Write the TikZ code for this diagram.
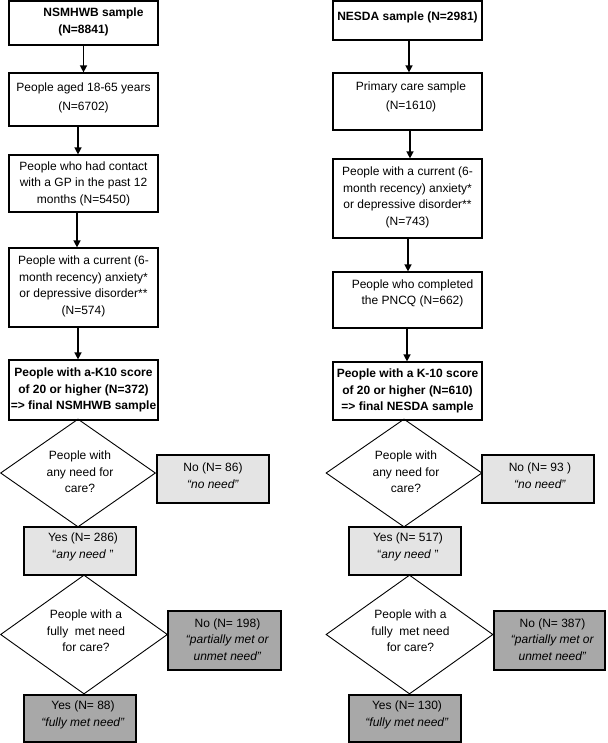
\documentclass[tikz,border=0pt]{standalone}
\usepackage{fontspec}
\setmainfont{Liberation Sans}
\usetikzlibrary{shapes.geometric,arrows.meta}
\definecolor{lightfill}{RGB}{228,228,228}
\definecolor{darkfill}{RGB}{168,168,168}
\newcommand{\boxtext}[3][0pt]{\hspace*{#1}\raisebox{#2}[\height][\depth]{\begin{tabular}{@{}c@{}}#3\end{tabular}}}
\begin{document}
\begin{tikzpicture}[x=1pt,y=-1pt,
  txtfont/.style={font=\fontsize{12}{16.5}\selectfont},
  box/.style={draw, line width=1.2pt, inner sep=0pt, minimum width=149pt, txtfont},
  boldbox/.style={box, font=\fontsize{12}{16.5}\selectfont\bfseries},
  dec/.style={draw, diamond, aspect=1.43, inner sep=0pt, line width=0.9pt, txtfont},
  res/.style={draw, line width=1.2pt, inner sep=0pt, minimum width=112pt, txtfont},
  lightres/.style={res, fill=lightfill},
  darkres/.style={res, fill=darkfill},
  arr/.style={line width=1.4pt, -{Triangle[length=7pt,width=7pt]}}]
\useasboundingbox (0,0) rectangle (607,743);

% left column
\node[boldbox, minimum height=44pt] (L1) at (83.5,23) {\boxtext{1.5pt}{\hspace*{20pt}NSMHWB sample\\(N=8841)}};
\node[box, minimum height=53pt] (L2) at (83.5,99.5) {\boxtext{2pt}{People aged 18-65 years\\[2.5pt](N=6702)}};
\node[box, minimum height=57pt] (L3) at (83.5,183.5) {\boxtext{0pt}{People who had contact\\with a GP in the past 12\\months (N=5450)}};
\node[box, minimum height=79pt] (L4) at (83.5,287.5) {\boxtext{1.5pt}{People with a current (6-\\month recency) anxiety*\\or depressive disorder**\\(N=574)}};
\node[boldbox, minimum height=60pt] (L5) at (83.5,390) {\boxtext{0pt}{People with a-K10 score\\of 20 or higher (N=372)\\=> final NSMHWB sample}};

\node[dec, minimum width=155pt, minimum height=108pt] (LD1) at (78,473) {\boxtext[4pt]{0pt}{People with\\any need for\\care?}};
\node[lightres, minimum height=48pt] (LN1) at (213,479) {\boxtext{2.5pt}{No (N= 86)\\\textit{“no need”}}};
\node[lightres, minimum height=48pt] (LY1) at (80,551) {\boxtext[6pt]{4.5pt}{Yes (N= 286)\\“\textit{any need} ”}};
\node[dec, minimum width=167pt, minimum height=119pt] (LD2) at (84,634.5) {\boxtext[4pt]{2.5pt}{People with a\\fully\ \ met need\\for care?}};
\node[darkres, minimum width=113pt, minimum height=59pt] (LN2) at (224.5,640.5) {\boxtext[6pt]{0pt}{No (N= 198)\\\textit{“partially met or}\\\textit{unmet need”}}};
\node[darkres, minimum height=47pt] (LY2) at (80,718.5) {\boxtext[6pt]{4pt}{Yes (N= 88)\\\textit{“fully met need”}}};

\draw[arr] (L1.south) -- (L2.north);
\draw[arr] ([xshift=-5.5pt]L2.south) -- ([xshift=-5.5pt]L3.north);
\draw[arr] ([xshift=-6.5pt]L3.south) -- ([xshift=-6.5pt]L4.north);
\draw[arr] ([xshift=-5.5pt]L4.south) -- ([xshift=-5.5pt]L5.north);

% right column
\node[boldbox, minimum height=39pt] (R1) at (407.5,20.5) {\boxtext{3pt}{NESDA sample (N=2981)}};
\node[box, minimum height=57pt] (R2) at (407.5,101.5) {\boxtext[7pt]{5pt}{Primary care sample\\[2.5pt](N=1610)}};
\node[box, minimum height=79pt] (R3) at (407.5,198.5) {\boxtext{1.5pt}{People with a current (6-\\month recency) anxiety*\\or depressive disorder**\\(N=743)}};
\node[box, minimum height=56pt] (R4) at (407.5,300) {\boxtext[10pt]{7pt}{People who completed\\the PNCQ (N=662)}};
\node[boldbox, minimum height=58pt] (R5) at (407.5,391) {\boxtext{0pt}{People with a K-10 score\\of 20 or higher (N=610)\\=> final NESDA sample}};

\node[dec, minimum width=156pt, minimum height=108pt] (RD1) at (404,473) {\boxtext[4pt]{0pt}{People with\\any need for\\care?}};
\node[lightres, minimum height=48pt] (RN1) at (538,479) {\boxtext[4pt]{2.5pt}{No (N= 93 )\\\textit{“no need”}}};
\node[lightres, minimum height=48pt] (RY1) at (405,551) {\boxtext[6pt]{4.5pt}{Yes (N= 517)\\“\textit{any need} ”}};
\node[dec, minimum width=167pt, minimum height=119pt] (RD2) at (409.5,634.5) {\boxtext[2pt]{2.5pt}{People with a\\fully\ \ met need\\for care?}};
\node[darkres, minimum width=111pt, minimum height=59pt] (RN2) at (549.5,640.5) {\boxtext[6pt]{0pt}{No (N= 387)\\\textit{“partially met or}\\\textit{unmet need”}}};
\node[darkres, minimum height=47pt] (RY2) at (405,718.5) {\boxtext[4pt]{4pt}{Yes (N= 130)\\\textit{“fully met need”}}};

\draw[arr] ([xshift=1.5pt]R1.south) -- ([xshift=1.5pt]R2.north);
\draw[arr] ([xshift=2.5pt]R2.south) -- ([xshift=2.5pt]R3.north);
\draw[arr] ([xshift=0.5pt]R3.south) -- ([xshift=0.5pt]R4.north);
\draw[arr] ([xshift=-0.5pt]R4.south) -- ([xshift=-0.5pt]R5.north);
\end{tikzpicture}
\end{document}
